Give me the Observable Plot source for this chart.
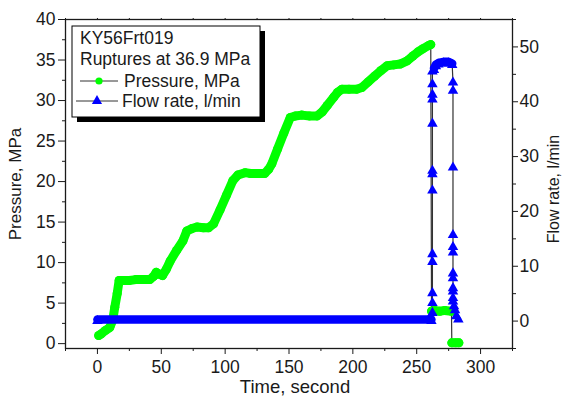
<!DOCTYPE html>
<html><head><meta charset="utf-8">
<script src="https://cdn.jsdelivr.net/npm/d3@7"></script>
<script src="https://cdn.jsdelivr.net/npm/@observablehq/plot@0.6"></script>
<style>
body{margin:0;background:#fff;}
#chart{position:relative;width:563px;height:400px;}
</style></head><body><div id="chart"></div>
<script>
// ---- data ----
const pressureTime = [1, 3, 6, 9.7, 12, 13.6, 15.5, 17, 20, 25, 30, 35, 41, 44, 46, 48, 51, 54, 57, 62, 67, 70, 74, 78, 83, 87, 91, 96, 101, 106, 110, 115.6, 120, 126, 131, 134, 136.6, 141, 146, 151, 155, 160, 166, 172, 176, 180, 185, 188, 191.5, 197, 203, 207, 212, 217, 222, 227, 232, 237, 242.5, 247, 251, 255, 259.5, 261,
  261.6, 264, 268, 272, 277.2,
  277.5, 280.5, 283];
const pressureValue = [1.0, 1.2, 1.6, 2.0, 2.9, 4.5, 6.2, 7.8, 7.8, 7.8, 7.9, 7.9, 7.9, 8.3, 8.8, 8.6, 8.4, 9.2, 10.2, 11.5, 12.7, 13.9, 14.2, 14.4, 14.3, 14.3, 14.8, 16.5, 18.3, 20.1, 20.8, 21.1, 21.0, 21.0, 21.0, 21.5, 22.2, 24.0, 26.0, 27.9, 28.1, 28.2, 28.1, 28.1, 28.6, 29.4, 30.4, 31.0, 31.4, 31.4, 31.4, 31.6, 32.3, 33.0, 33.7, 34.3, 34.4, 34.5, 34.9, 35.5, 36.0, 36.4, 36.8, 36.9,
  4.0, 4.1, 4.0, 4.1, 4.0,
  0.1, 0.1, 0.1];
const pressureSegment = [...Array(64).fill("loading"), ...Array(5).fill("after"), ...Array(3).fill("end")];

const flowTime = [0, 261.5,
  262.3, 262.3, 262.3, 262.3, 262.3, 262.3, 262.3, 262.3, 262.3, 262.3, 262.3, 262.3, 262.3,
  263.5, 265, 267, 271, 275, 277.8,
  278.4, 278.4, 278.4, 278.4, 278.4, 278.4, 278.4, 278.4, 278.4, 278.4, 278.4, 278.4, 279.2, 280, 281, 282.6];
const flowValue = [0, 0,
  1.5, 3.3, 5.1, 10.8, 12.2, 23.8, 26.8, 27.4, 36.0, 40.4, 41.3, 43.2, 45.5,
  45.8, 46.5, 46.8, 47.0, 47.0, 46.7,
  43.5, 42.0, 28.0, 15.7, 13.5, 12.5, 8.7, 7.8, 6.0, 5.4, 4.2, 3.6, 2.7, 2.0, 0.9, 0.3];
const flowSegment = ["base", "base", ...Array(13).fill("rise"), ...Array(6).fill("plateau"), ...Array(16).fill("fall")];

const pressureTicks = [0, 5, 10, 15, 20, 25, 30, 35, 40];
const pressureMinor = [2.5, 7.5, 12.5, 17.5, 22.5, 27.5, 32.5, 37.5];
const flowTicks = [0, 10, 20, 30, 40, 50];
const flowMinor = [-5, 5, 15, 25, 35, 45, 55];
const timeTicks = [0, 50, 100, 150, 200, 250, 300];
const timeMinor = [-25, 25, 75, 125, 175, 225, 275, 325];
const legendTitle = ["KY56Frt019", "Ruptures at 36.9 MPa"];
const seriesNames = ["Pressure, MPa", "Flow rate, l/min"];
const axisTitles = {x: "Time, second", y: "Pressure, MPa", y2: "Flow rate, l/min"};

// ---- dual axis mapping ----
const pDomain = [-0.6, 40];
const fDomain = [-5, 55];
const toP = f => pDomain[0] + (f - fDomain[0]) * (pDomain[1] - pDomain[0]) / (fDomain[1] - fDomain[0]);
const fromP = p => fDomain[0] + (p - pDomain[0]) * (fDomain[1] - fDomain[0]) / (pDomain[1] - pDomain[0]);

const pressure = pressureTime.map((t, i) => ({t, v: pressureValue[i], seg: pressureSegment[i]}));
const flow = flowTime.map((t, i) => ({t, v: flowValue[i], p: toP(flowValue[i]), seg: flowSegment[i]}));

const GREEN = "#00ff00", BLUE = "#0000ff", INK = "#1a1a1a";
const FONT = "'Liberation Sans', Arial, sans-serif";

const chart = Plot.plot({
  width: 563, height: 400,
  marginLeft: 65, marginRight: 51, marginTop: 19, marginBottom: 52,
  style: {fontFamily: FONT, fontSize: "17px", color: INK, background: "white"},
  x: {domain: [-25, 325]},
  y: {domain: pDomain},
  marks: [
    Plot.axisY({ticks: pressureMinor, tickSize: 3, tickFormat: () => "", anchor: "left", label: null}),
    Plot.axisY({ticks: pressureTicks, tickSize: 7, tickPadding: 3, anchor: "left", label: null, fontSize: 17.5}),
    Plot.axisY({ticks: flowMinor.map(toP), tickSize: 3, tickFormat: () => "", anchor: "right", label: null}),
    Plot.axisY({ticks: flowTicks.map(toP), tickSize: 5, tickPadding: 2, tickFormat: d => String(Math.round(fromP(d))), anchor: "right", label: null, fontSize: 17.5}),
    Plot.axisX({ticks: timeMinor, tickSize: 3, tickFormat: () => "", anchor: "bottom", label: null}),
    Plot.axisX({ticks: timeTicks, tickSize: 6, tickPadding: 6, anchor: "bottom", label: null, fontSize: 17.5}),
    Plot.axisX({ticks: [...timeTicks, ...timeMinor], tickSize: 2, tickFormat: () => "", anchor: "top", label: null}),
    // connecting lines
    Plot.line(pressure, {x: "t", y: "v", stroke: "#333", strokeWidth: 1.2}),
    Plot.line(flow, {x: "t", y: "p", stroke: "#333", strokeWidth: 1.2}),
    // pressure markers
    Plot.line(pressure, {x: "t", y: "v", z: "seg", stroke: GREEN, strokeWidth: 9, strokeLinecap: "round", strokeLinejoin: "round"}),
    Plot.dot(pressure, {x: "t", y: "v", r: 4.5, fill: GREEN}),
    // flow markers
    Plot.line(flow, {filter: d => d.seg === "base" || d.seg === "plateau", x: "t", y: "p", z: "seg", stroke: BLUE, strokeWidth: 8.5, dy: -1.5}),
    Plot.dot(flow, {x: "t", y: "p", symbol: "triangle", r: 3.9, fill: BLUE}),
    Plot.frame({stroke: INK, strokeWidth: 1.3}),
    // axis titles
    Plot.text([axisTitles.y], {frameAnchor: "left", textAnchor: "middle", dx: -50, rotate: -90, fontSize: 17, fill: INK}),
    Plot.text([axisTitles.y2], {frameAnchor: "right", textAnchor: "middle", dx: 41, dy: 5, rotate: -90, fontSize: 16, fill: INK}),
    Plot.text([axisTitles.x], {frameAnchor: "bottom", textAnchor: "middle", dx: 6, dy: 44, fontSize: 18.5, fill: INK})
  ]
});
document.getElementById("chart").appendChild(chart);

// ---- legend box (drawn into the plot's svg) ----
const svg = d3.select(chart);
const g = svg.append("g").attr("font-family", FONT).attr("font-size", 17.5).attr("fill", INK).attr("text-anchor", "start");
const bx = 72, by = 26, bw = 188, bh = 91, sh = 5;
g.append("rect").attr("x", bx + sh).attr("y", by + sh).attr("width", bw).attr("height", bh).attr("fill", "#000");
g.append("rect").attr("x", bx).attr("y", by).attr("width", bw).attr("height", bh).attr("fill", "#fff").attr("stroke", "#000").attr("stroke-width", 1);
legendTitle.forEach((s, i) => g.append("text").attr("x", bx + 8).attr("y", by + 18 + i * 21).attr("text-anchor", "start").text(s));
// series entries
const rowY = [by + 55, by + 75];
g.append("line").attr("x1", bx + 8).attr("x2", bx + 46).attr("y1", rowY[0]).attr("y2", rowY[0]).attr("stroke", "#333").attr("stroke-width", 1);
g.append("circle").attr("cx", bx + 27).attr("cy", rowY[0]).attr("r", 3.6).attr("fill", GREEN);
g.append("line").attr("x1", bx + 4).attr("x2", bx + 46).attr("y1", rowY[1]).attr("y2", rowY[1]).attr("stroke", "#333").attr("stroke-width", 1);
g.append("path").attr("d", d3.symbol(d3.symbolTriangle, 45)()).attr("transform", `translate(${bx + 25},${rowY[1]})`).attr("fill", BLUE);
g.append("text").attr("x", bx + 52).attr("y", rowY[0] + 5.5).attr("text-anchor", "start").text(seriesNames[0]);
g.append("text").attr("x", bx + 50).attr("y", rowY[1] + 6).attr("text-anchor", "start").text(seriesNames[1]);
</script>
</body></html>
